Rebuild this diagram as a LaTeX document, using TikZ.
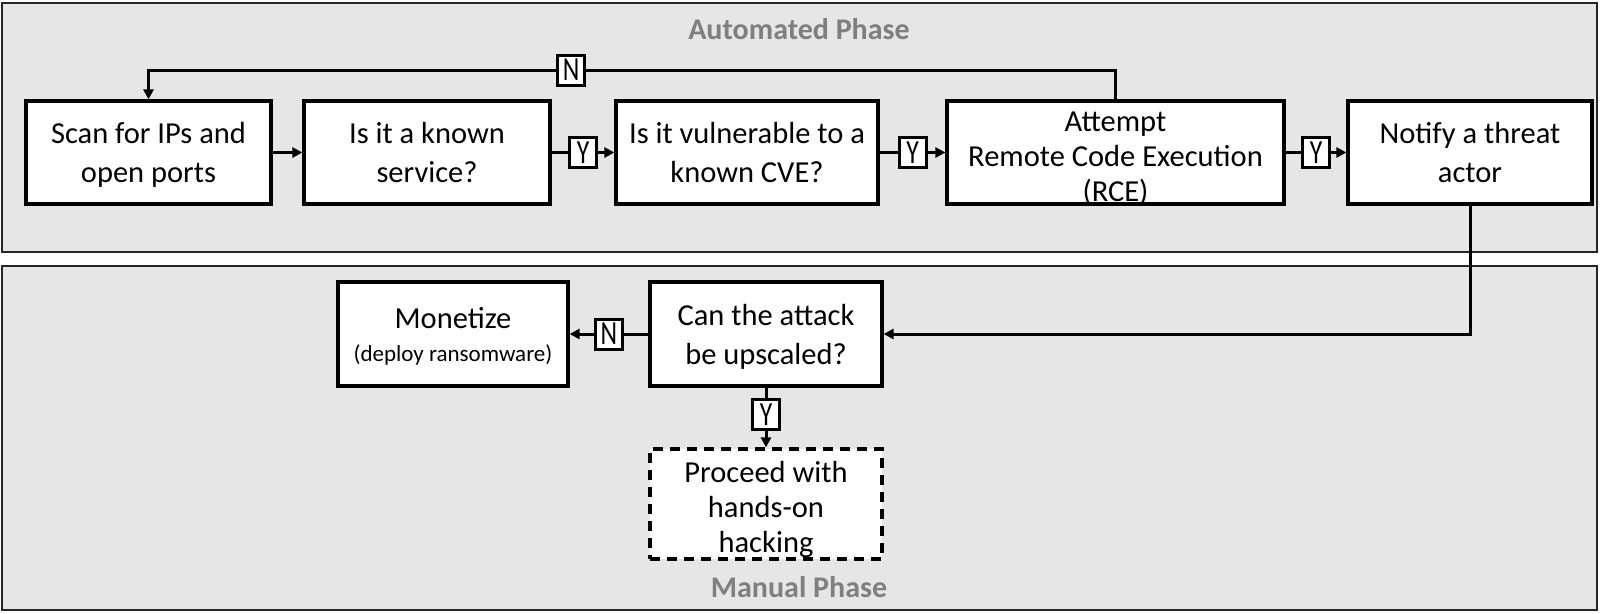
\documentclass[tikz,border=0pt]{standalone}
\usepackage{fontspec}
\setmainfont{Carlito}
\usetikzlibrary{arrows.meta}
\definecolor{panelgray}{HTML}{E6E6E6}
\definecolor{titlegray}{HTML}{7F7F7F}
\newcommand{\stretchlbl}[1]{\scalebox{0.95}[1.25]{#1}}
\tikzset{
  panel/.style={draw=black!85, line width=1.5pt, fill=panelgray},
  stepbox/.style={draw, line width=3.2pt, fill=white, align=center, inner sep=2pt,
    text depth=0pt, font=\fontsize{30.5}{39}\selectfont},
  lab/.style={draw, line width=3pt, fill=white, inner sep=0pt, minimum width=27pt,
    minimum height=30pt, font=\fontsize{27}{30}\selectfont},
  arr/.style={line width=3pt, -{Triangle[length=10pt,width=10pt]}},
  phase/.style={text=titlegray, font=\fontsize{30}{34}\selectfont\bfseries}
}
\begin{document}
\begin{tikzpicture}[x=1pt,y=-1pt]
\useasboundingbox (0,0) rectangle (1600,613);
\draw[panel] (2,3) rectangle (1597,252);
\draw[panel] (2,266) rectangle (1597,610);
\node[phase] (tA) at (799,29) {Automated Phase};
\node[phase] (tM) at (799,587) {Manual Phase};

\node[stepbox, minimum width=245pt, minimum height=103pt] (b1) at (148.5,152.5) {Scan for IPs and\\open ports};
\node[stepbox, minimum width=246pt, minimum height=103pt] (b2) at (427,152.5) {Is it a known\\service?};
\node[stepbox, minimum width=262pt, minimum height=103pt] (b3) at (747,152.5) {Is it vulnerable to a\\known CVE?};
\node[stepbox, minimum width=337pt, minimum height=103pt, font=\fontsize{30.5}{35}\selectfont] (b4) at (1115.5,152.5) {\rule{0pt}{28pt}Attempt\\Remote Code Execution\\(RCE)};
\node[stepbox, minimum width=244pt, minimum height=103pt] (b5) at (1470,152.5) {Notify a threat\\actor};

\node[stepbox, minimum width=230pt, minimum height=104pt] (b7) at (453,334) {Monetize\\[-6pt]{\fontsize{23}{28}\selectfont (deploy ransomware)}};
\node[stepbox, minimum width=232pt, minimum height=104pt] (b6) at (766,334) {Can the attack\\be upscaled?};
\node[stepbox, dashed, dash pattern=on 10pt off 7pt, minimum width=232pt, minimum height=110pt, font=\fontsize{30.5}{35}\selectfont] (b8) at (766,504) {\rule{0pt}{27pt}Proceed with\\hands-on\\hacking};

\draw[arr] (b1) -- (b2);
\draw[arr] (b2) -- node[lab]{\stretchlbl{Y}} (b3);
\draw[arr] (b3) -- node[lab]{\stretchlbl{Y}} (b4);
\draw[arr] (b4) -- node[lab]{\stretchlbl{Y}} (b5);
\coordinate (t1) at (1115.5,70);
\coordinate (t2) at (148.5,70);
\draw[arr] (b4.north) -- (t1) -- node[lab, pos=0.563]{\stretchlbl{N}} (t2) -- (b1.north);
\draw[arr] (b5.south) |- (b6.east);
\draw[arr] (b6) -- node[lab]{\stretchlbl{N}} (b7);
\draw[arr] (b6) -- node[lab, pos=0.45]{\stretchlbl{Y}} (b8);
\end{tikzpicture}
\end{document}
